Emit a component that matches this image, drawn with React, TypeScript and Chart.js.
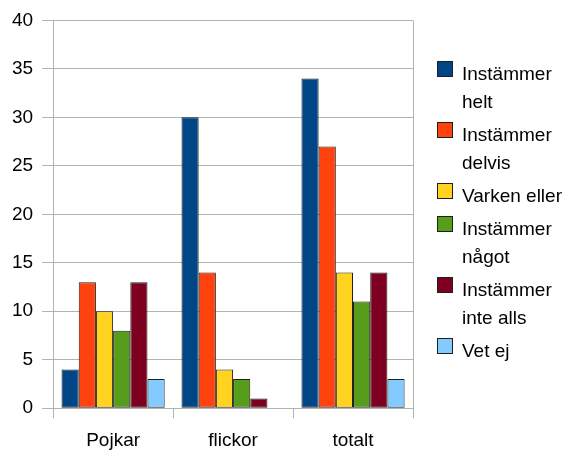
import React, { useEffect, useRef } from "react";
import { Chart, registerables } from "chart.js";

Chart.register(...registerables);

const categories = ["Pojkar", "flickor", "totalt"];
const seriesNames: string[][] = [
  ["Instämmer", "helt"],
  ["Instämmer", "delvis"],
  ["Varken eller"],
  ["Instämmer", "något"],
  ["Instämmer", "inte alls"],
  ["Vet ej"],
];
const instammerHelt = [4, 30, 34];
const instammerDelvis = [13, 14, 27];
const varkenEller = [10, 4, 14];
const instammerNagot = [8, 3, 11];
const instammerInteAlls = [13, 1, 14];
const vetEj = [3, 0, 3];
const seriesValues = [instammerHelt, instammerDelvis, varkenEller, instammerNagot, instammerInteAlls, vetEj];
const seriesColors = ["#004586", "#ff420e", "#ffd320", "#579d1c", "#7e0021", "#83caff"];
const yMin = 0;
const yMax = 40;
const yStep = 5;

const FONT = "'Liberation Sans', Arial, sans-serif";
const FONT_SIZE = 19;
const GRID = "#b3b3b3";
const EDGE = "#1e1e1e";

const rightBorder = {
  id: "rightBorder",
  beforeDatasetsDraw(chart: any) {
    const { ctx, chartArea } = chart;
    ctx.save();
    ctx.strokeStyle = GRID;
    ctx.lineWidth = 1;
    const x = Math.round(chartArea.right) + 0.5;
    ctx.beginPath();
    ctx.moveTo(x, chartArea.top);
    ctx.lineTo(x, chartArea.bottom);
    ctx.stroke();
    ctx.restore();
  },
};

const sideLegend = {
  id: "sideLegend",
  afterDraw(chart: any) {
    const ctx = chart.ctx as CanvasRenderingContext2D;
    ctx.save();
    ctx.font = `${FONT_SIZE}px ${FONT}`;
    ctx.textBaseline = "alphabetic";
    ctx.textAlign = "left";
    let y = 80;
    const lineStep = 28;
    const gap = 5;
    chart.data.datasets.forEach((ds: any, i: number) => {
      const lines = seriesNames[i];
      ctx.fillStyle = ds.backgroundColor;
      ctx.fillRect(437, y - 19, 16, 16);
      ctx.strokeStyle = EDGE;
      ctx.lineWidth = 1;
      ctx.strokeRect(437.5, y - 18.5, 15, 15);
      ctx.fillStyle = "#000";
      lines.forEach((l, j) => ctx.fillText(l, 462, y + j * lineStep));
      y += lines.length * lineStep + gap;
    });
    ctx.restore();
  },
};

export default function App() {
  const ref = useRef<HTMLCanvasElement | null>(null);
  useEffect(() => {
    if (!ref.current) return;
    const chart = new Chart(ref.current, {
      type: "bar",
      data: {
        labels: categories,
        datasets: seriesValues.map((vals, i) => ({
          label: seriesNames[i].join(" "),
          data: vals,
          backgroundColor: seriesColors[i],
          borderColor: EDGE,
          borderWidth: 1,
          borderSkipped: false,
          barPercentage: 1,
          categoryPercentage: 0.86,
        })),
      },
      options: {
        animation: false,
        responsive: false,
        maintainAspectRatio: false,
        layout: { padding: { left: 3, top: 20, right: 168, bottom: -11 } },
        plugins: { legend: { display: false }, tooltip: { enabled: false } },
        scales: {
          x: {
            offset: true,
            grid: {
              display: true,
              offset: true,
              drawOnChartArea: false,
              drawTicks: true,
              tickLength: 10,
              color: GRID,
            },
            border: { display: true, color: GRID },
            ticks: { color: "#000", font: { family: FONT, size: FONT_SIZE }, padding: 11 },
          },
          y: {
            min: yMin,
            max: yMax,
            ticks: { stepSize: yStep, color: "#000", font: { family: FONT, size: FONT_SIZE }, padding: 9 },
            grid: { color: GRID, tickLength: 11 },
            border: { display: true, color: GRID },
          },
        },
      },
      plugins: [rightBorder, sideLegend],
    });
    return () => chart.destroy();
  }, []);
  return (
    <div style={{ position: "fixed", left: 0, top: 0, width: 581, height: 452, background: "#fff" }}>
      <canvas ref={ref} width={581} height={452} style={{ display: "block" }} />
    </div>
  );
}
